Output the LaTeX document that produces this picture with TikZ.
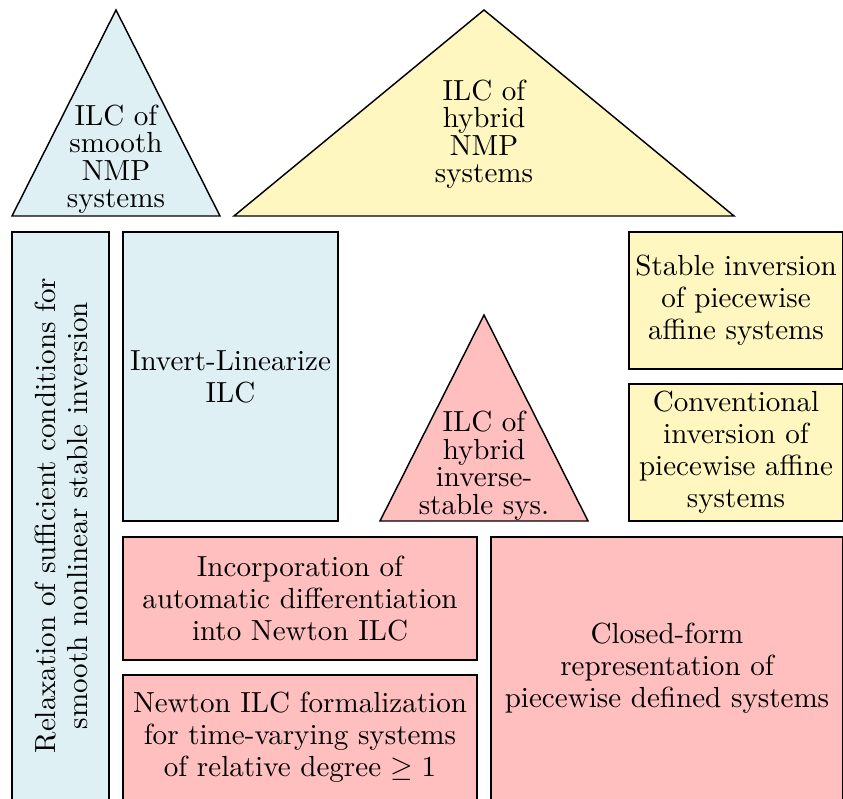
\documentclass[tikz,border=0pt]{standalone}
\usepackage{amssymb}
\definecolor{cblue}{RGB}{223,240,245}
\definecolor{cyell}{RGB}{255,247,191}
\definecolor{cpink}{RGB}{255,191,191}
\tikzset{
  shp/.style={draw=black, line width=0.5pt, line join=miter},
  boxtext/.style={align=center, inner sep=0pt, font=\fontsize{10}{11}\selectfont},
  tritext/.style={align=center, inner sep=0pt, anchor=north, font=\fontsize{10}{9.5}\selectfont}
}
\begin{document}
\begin{tikzpicture}[x=0.344pt, y=-0.344pt]
\clip (0,0) rectangle (843,799);
\fill[white] (0,0) rectangle (843,799);
% triangles
\path[shp, fill=cblue] (116,10) -- (220,216) -- (12,216) -- cycle;
\node[tritext] (t1) at (116,104) {ILC of\\smooth\\NMP\\systems};
\path[shp, fill=cyell] (484,10) -- (734,216) -- (234,216) -- cycle;
\node[tritext] (t2) at (484,79) {ILC of\\hybrid\\NMP\\systems};
\path[shp, fill=cpink] (484,315) -- (588,521) -- (380,521) -- cycle;
\node[tritext] (t3) at (484,410.5) {ILC of\\hybrid\\inverse-\\stable sys.};
% boxes
\path[shp, fill=cblue] (12,232) rectangle (109,805);
\node[boxtext, rotate=90] (b1) at (61,515.5) {Relaxation of sufficient conditions for\\smooth nonlinear stable inversion};
\path[shp, fill=cblue] (123,232) rectangle (338,521);
\node[boxtext] (b2) at (230.5,376.5) {Invert-Linearize\\ILC};
\path[shp, fill=cyell] (629,232) rectangle (843,369);
\node[boxtext] (b3) at (736,300.5) {Stable inversion\\of piecewise\\affine systems};
\path[shp, fill=cyell] (629,384) rectangle (843,521);
\node[boxtext] (b4) at (736,452.5) {Conventional\\inversion of\\piecewise affine\\systems};
\path[shp, fill=cpink] (123,537) rectangle (477,660);
\node[boxtext] (b5) at (300,598.5) {Incorporation of\\automatic differentiation\\into Newton ILC};
\path[shp, fill=cpink] (123,675) rectangle (477,805);
\node[boxtext] (b6) at (300,737) {Newton ILC formalization\\for time-varying systems\\of relative degree $\geq 1$};
\path[shp, fill=cpink] (491,537) rectangle (843,805);
\node[boxtext] (b7) at (667,668) {Closed-form\\representation of\\piecewise defined systems};
\end{tikzpicture}
\end{document}
